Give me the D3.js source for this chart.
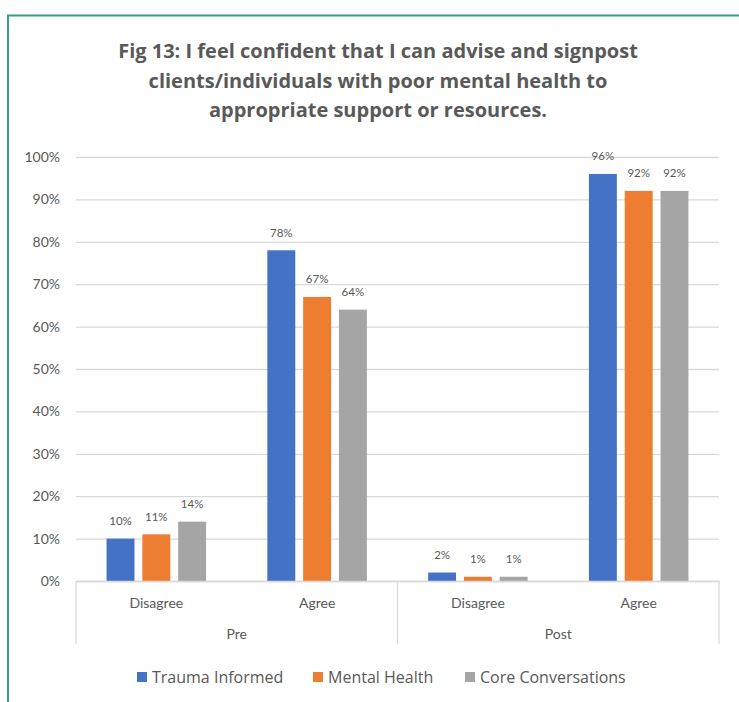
<!DOCTYPE html>
<html>
<head>
<meta charset="utf-8">
<script src="https://cdn.jsdelivr.net/npm/d3@7"></script>
<style>
  body { margin: 0; background: #fff; }
  svg { display: block; font-family: Lato, "Open Sans", sans-serif; }
</style>
</head>
<body>
<svg id="chart" width="739" height="702"></svg>
<script>
// chart values
var groups = ["Pre", "Post"];
var answers = ["Disagree", "Agree"];
var seriesNames = ["Trauma Informed", "Mental Health", "Core Conversations"];
var traumaInformed = [10, 78, 2, 96];
var mentalHealth = [11, 67, 1, 92];
var coreConversations = [14, 64, 1, 92];
var yTicks = [0, 10, 20, 30, 40, 50, 60, 70, 80, 90, 100];
var titleLines = [
    "Fig 13: I feel confident that I can advise and signpost",
    "clients/individuals with poor mental health to",
    "appropriate support or resources."
];

var colors = ["#4472C4", "#ED7D31", "#A5A5A5"];
var textColor = "#595959";
var gridColor = "#d9d9d9";

var svg = d3.select("#chart");

// outer border (teal)
svg.append("path")
    .attr("d", "M8,702 L8,15.5 L739,15.5")
    .attr("fill", "none")
    .attr("stroke", "#3a9c88")
    .attr("stroke-width", 2);

// title
svg.append("g").selectAll("text")
    .data(titleLines)
    .enter()
    .append("text")
    .attr("x", 378)
    .attr("y", function (d, i) { return 58 + i * 29.5; })
    .attr("text-anchor", "middle")
    .attr("font-family", "'Open Sans', sans-serif")
    .attr("font-size", 20)
    .attr("font-weight", "bold")
    .attr("fill", textColor)
    .text(function (d) { return d; });

var margin = {left: 76, top: 157};
var w = 643, h = 424;

var g = svg.append("g").attr("transform", "translate(" + margin.left + "," + margin.top + ")");

// rows: one per category
var rows = [];
groups.forEach(function (grp) {
    answers.forEach(function (a) {
        rows.push({key: grp + "|" + a, group: grp, answer: a});
    });
});
rows.forEach(function (r, i) {
    r.values = [traumaInformed[i], mentalHealth[i], coreConversations[i]];
});

var x0 = d3.scaleBand()
    .domain(rows.map(function (r) { return r.key; }))
    .range([0, w])
    .paddingInner(0.381)
    .paddingOuter(0.19);

var x1 = d3.scaleBand()
    .domain(seriesNames)
    .range([0, x0.bandwidth()])
    .paddingInner(0.22);

var xg = d3.scaleBand().domain(groups).range([0, w]);

var y = d3.scaleLinear().domain([0, 100]).range([h, 0]);

// y axis + gridlines
var yAxis = g.append("g")
    .call(d3.axisLeft(y)
        .tickValues(yTicks)
        .tickSize(-w)
        .tickPadding(16)
        .tickFormat(function (d) { return d + "%"; }));
yAxis.select(".domain").remove();
yAxis.selectAll(".tick line").attr("stroke", gridColor).attr("stroke-width", 1.3);
yAxis.selectAll(".tick text")
    .attr("fill", textColor)
    .attr("font-size", 14)
    .attr("font-family", "Lato, sans-serif");

// bars
var cat = g.selectAll(".cat")
    .data(rows)
    .enter()
    .append("g")
    .attr("class", "cat")
    .attr("transform", function (d) { return "translate(" + x0(d.key) + ",0)"; });

cat.selectAll("rect")
    .data(function (d) {
        return d.values.map(function (v, i) { return {name: seriesNames[i], value: v, i: i}; });
    })
    .enter()
    .append("rect")
    .attr("x", function (d) { return x1(d.name); })
    .attr("y", function (d) { return y(d.value); })
    .attr("width", x1.bandwidth())
    .attr("height", function (d) { return h - y(d.value); })
    .attr("fill", function (d) { return colors[d.i]; });

cat.selectAll(".lbl")
    .data(function (d) {
        return d.values.map(function (v, i) { return {name: seriesNames[i], value: v}; });
    })
    .enter()
    .append("text")
    .attr("class", "lbl")
    .attr("x", function (d) { return x1(d.name) + x1.bandwidth() / 2; })
    .attr("y", function (d) { return y(d.value) - 13.5; })
    .attr("text-anchor", "middle")
    .attr("font-size", 11.5)
    .attr("fill", textColor)
    .text(function (d) { return d.value + "%"; });

// category axis (answers)
var xAxis = g.append("g")
    .attr("transform", "translate(0," + h + ")")
    .call(d3.axisBottom(x0)
        .tickSize(0)
        .tickPadding(17)
        .tickFormat(function (d) { return d.split("|")[1]; }));
xAxis.select(".domain").attr("stroke", gridColor).attr("stroke-width", 1.3);
xAxis.selectAll(".tick text")
    .attr("fill", textColor)
    .attr("font-size", 14)
    .attr("font-family", "Lato, sans-serif");

// group level labels + separators
var seps = [0].concat(groups.map(function (grp) { return xg(grp) + xg.bandwidth(); }));
g.selectAll(".sep")
    .data(seps)
    .enter()
    .append("line")
    .attr("class", "sep")
    .attr("x1", function (d) { return d; })
    .attr("x2", function (d) { return d; })
    .attr("y1", h)
    .attr("y2", h + 63)
    .attr("stroke", gridColor)
    .attr("stroke-width", 1.3);

g.selectAll(".grp")
    .data(groups)
    .enter()
    .append("text")
    .attr("class", "grp")
    .attr("x", function (d) { return xg(d) + xg.bandwidth() / 2; })
    .attr("y", h + 58)
    .attr("text-anchor", "middle")
    .attr("font-size", 14)
    .attr("fill", textColor)
    .text(function (d) { return d; });

// legend
var legendX = [137, 313, 465];
var legend = svg.append("g").selectAll("g")
    .data(seriesNames)
    .enter()
    .append("g")
    .attr("transform", function (d, i) { return "translate(" + legendX[i] + ",672)"; });
legend.append("rect")
    .attr("width", 10)
    .attr("height", 10)
    .attr("fill", function (d, i) { return colors[i]; });
legend.append("text")
    .attr("x", 15)
    .attr("y", 10.5)
    .attr("font-family", "'Open Sans', sans-serif")
    .attr("font-size", 16)
    .attr("fill", textColor)
    .text(function (d) { return d; });
</script>
</body>
</html>
